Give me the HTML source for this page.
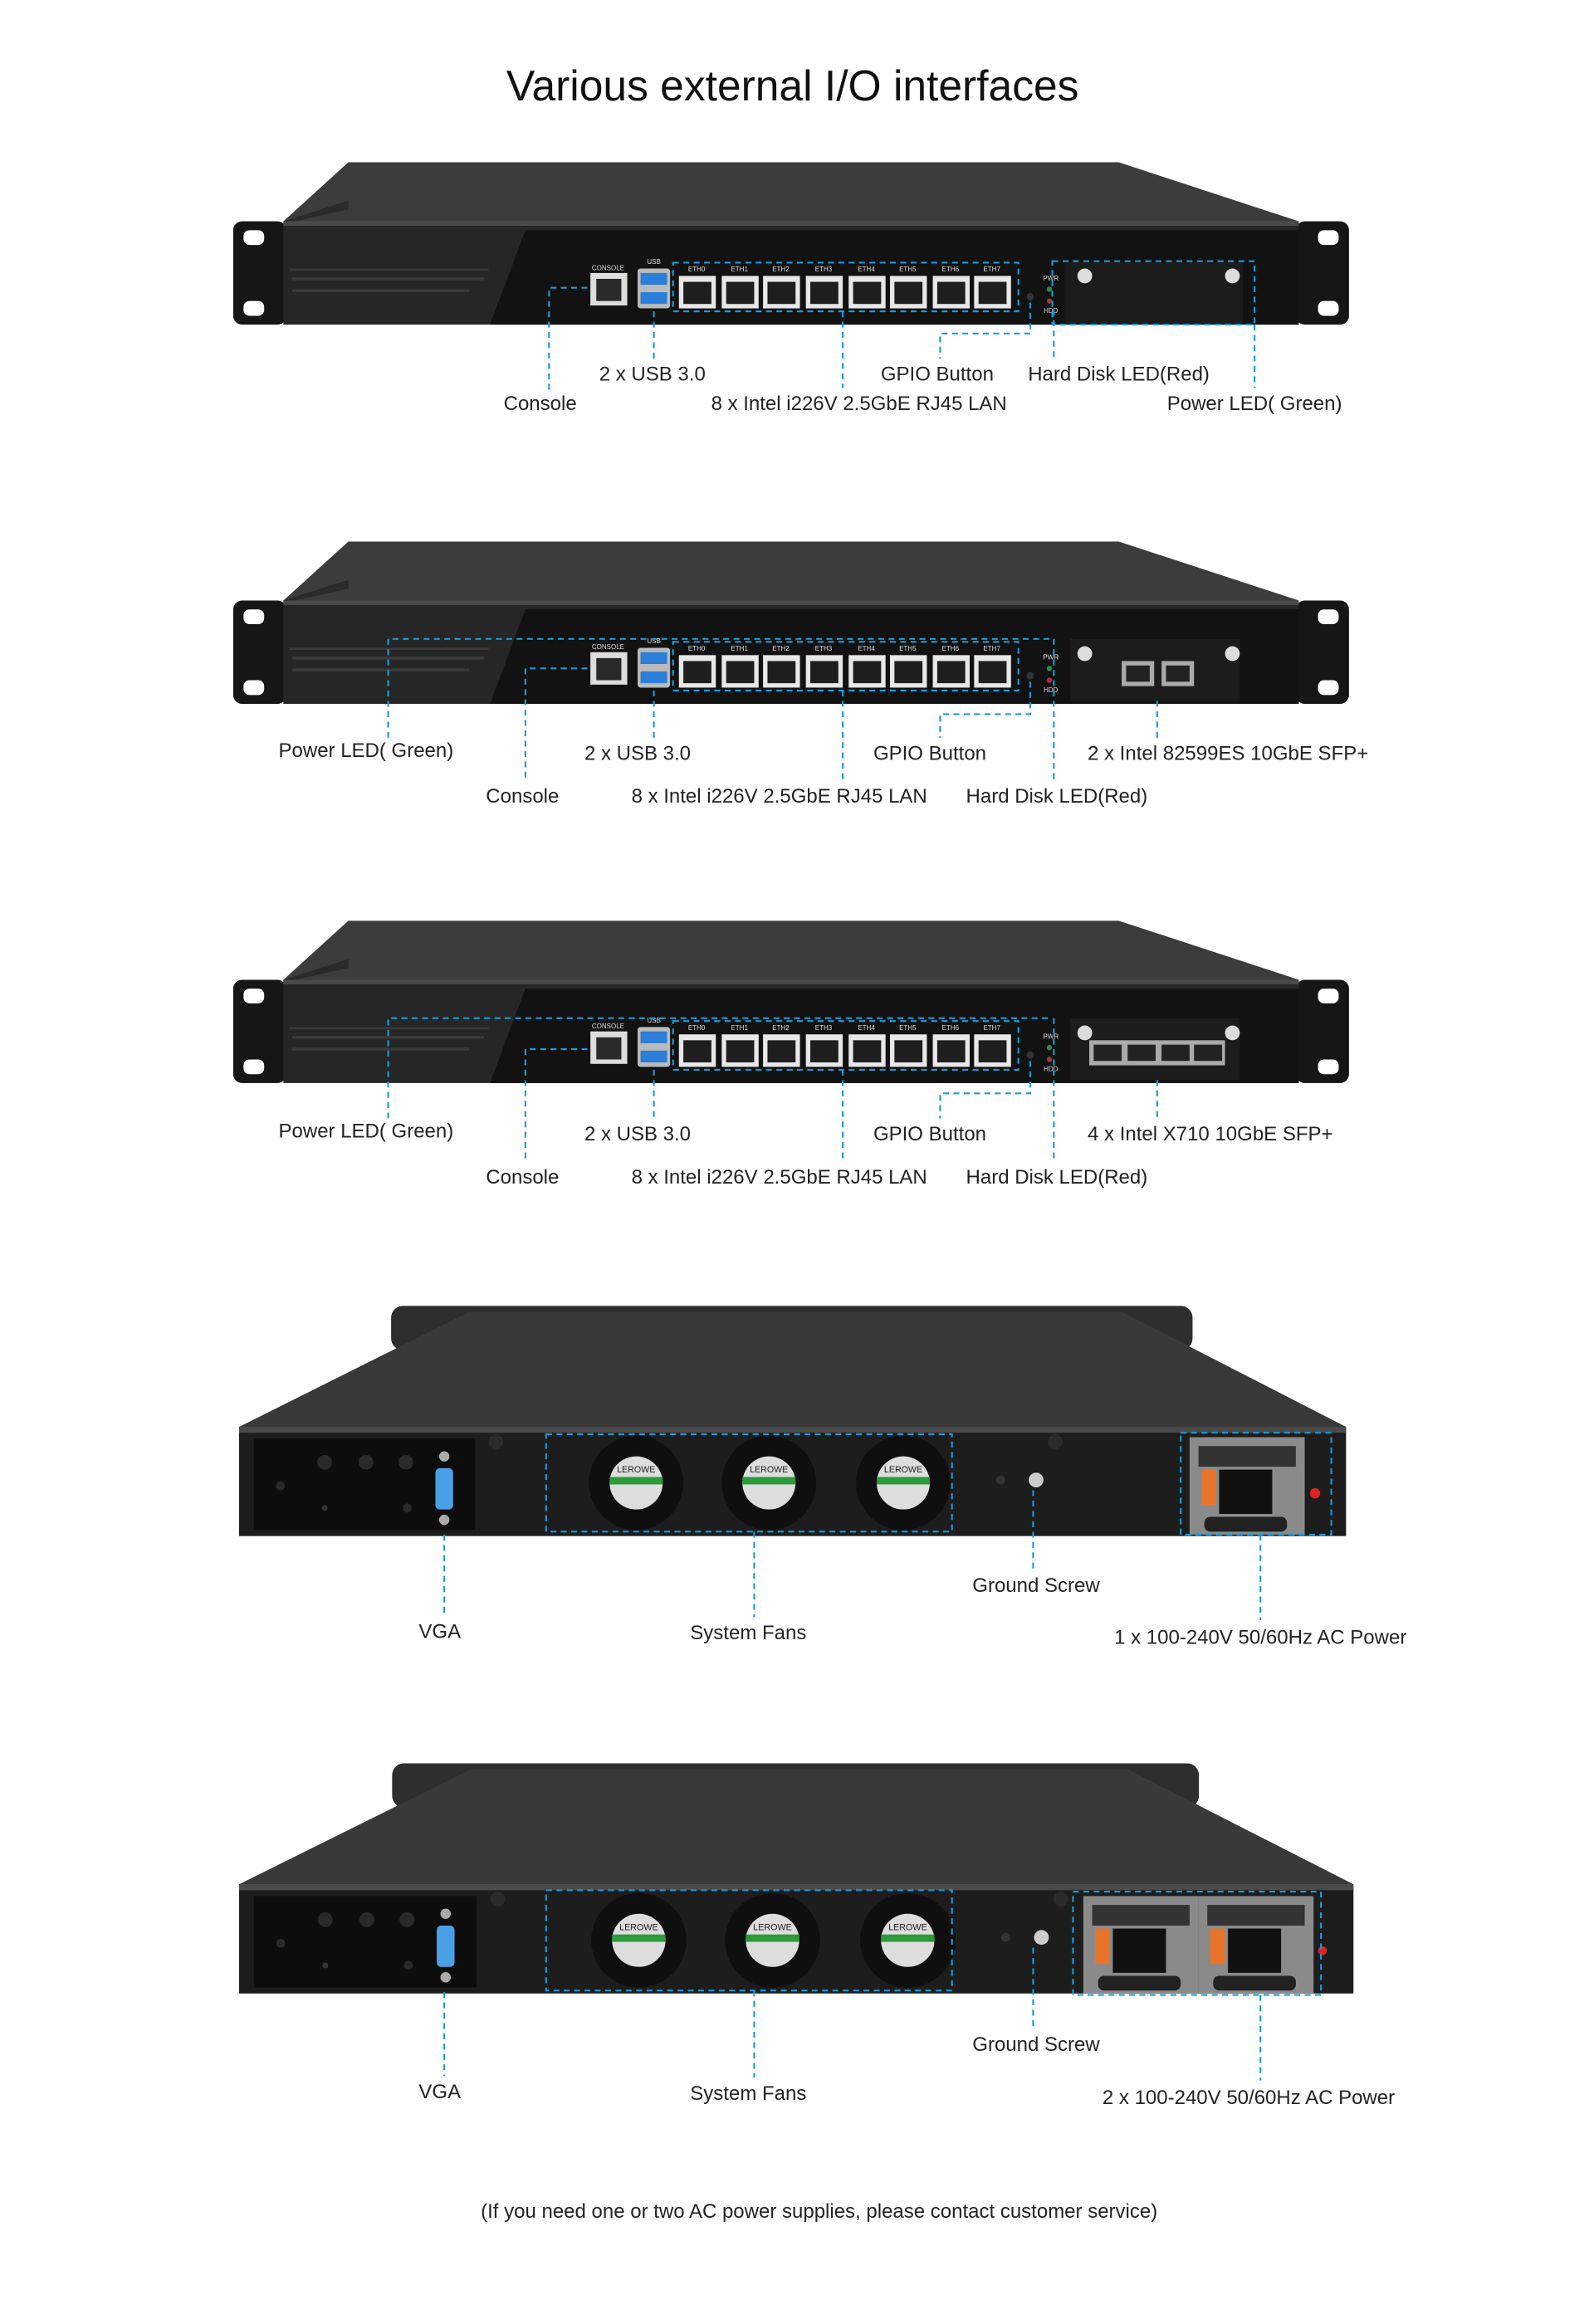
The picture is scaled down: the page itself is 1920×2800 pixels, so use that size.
<!DOCTYPE html>
<html><head><meta charset="utf-8">
<style>
html,body{margin:0;padding:0;background:#fff;}
svg{display:block;}
text{font-family:"Liberation Sans","DejaVu Sans",sans-serif;fill:#222;}
.l{font-size:13.5px;text-anchor:middle;}
.d{stroke:#1a9ad6;stroke-width:1.2;stroke-dasharray:4 3;fill:none;}
.t{font-size:4.5px;fill:#ddd;text-anchor:middle;}
</style></head>
<body>
<svg width="1920" height="2800" viewBox="0 0 1080 1575" xmlns="http://www.w3.org/2000/svg">
<defs>
<g id="front">
  <rect x="158" y="40" width="36" height="70" rx="6" fill="#161616"/>
  <rect x="165" y="46" width="14" height="10" rx="4" fill="#fff"/>
  <rect x="165" y="94" width="14" height="10" rx="4" fill="#fff"/>
  <rect x="878" y="40" width="36" height="70" rx="6" fill="#161616"/>
  <rect x="893" y="46" width="14" height="10" rx="4" fill="#fff"/>
  <rect x="893" y="94" width="14" height="10" rx="4" fill="#fff"/>
  <polygon points="236,0 758,0 880,40 192,40" fill="#3c3c3c"/>
  <polygon points="192,40 236,26 236,32 200,40" fill="#2a2a2a"/>
  <rect x="192" y="40" width="688" height="70" fill="#262626"/>
  <rect x="192" y="40" width="688" height="3" fill="#4a4a4a"/>
  <polygon points="356,46 880,46 880,110 332,110" fill="#121212"/>
  <rect x="196" y="72" width="135" height="1.5" fill="#3a3a3a"/>
  <rect x="198" y="78" width="130" height="2" fill="#3a3a3a"/>
  <rect x="198" y="86" width="120" height="2" fill="#3a3a3a"/>
  <text x="412" y="73" class="t">CONSOLE</text>
  <rect x="400" y="75" width="25" height="22" fill="#ddd"/>
  <rect x="404" y="79" width="17" height="15" fill="#2a2a2a"/>
  <text x="443" y="69" class="t">USB</text>
  <rect x="432" y="72" width="22" height="27" rx="2" fill="#bbb"/>
  <rect x="434" y="75" width="18" height="8" fill="#2b7fd8"/>
  <rect x="434" y="88" width="18" height="8" fill="#2b7fd8"/>
  <g fill="#e8e8e8">
    <rect x="460" y="77" width="25" height="22"/><rect x="489" y="77" width="25" height="22"/>
    <rect x="517" y="77" width="25" height="22"/><rect x="546" y="77" width="25" height="22"/>
    <rect x="575" y="77" width="25" height="22"/><rect x="603" y="77" width="25" height="22"/>
    <rect x="632" y="77" width="25" height="22"/><rect x="660" y="77" width="25" height="22"/>
  </g>
  <g fill="#1e1e1e">
    <rect x="463" y="81" width="19" height="15"/><rect x="492" y="81" width="19" height="15"/>
    <rect x="520" y="81" width="19" height="15"/><rect x="549" y="81" width="19" height="15"/>
    <rect x="578" y="81" width="19" height="15"/><rect x="606" y="81" width="19" height="15"/>
    <rect x="635" y="81" width="19" height="15"/><rect x="663" y="81" width="19" height="15"/>
  </g>
  <text x="472" y="74" class="t">ETH0</text><text x="501" y="74" class="t">ETH1</text>
  <text x="529" y="74" class="t">ETH2</text><text x="558" y="74" class="t">ETH3</text>
  <text x="587" y="74" class="t">ETH4</text><text x="615" y="74" class="t">ETH5</text>
  <text x="644" y="74" class="t">ETH6</text><text x="672" y="74" class="t">ETH7</text>
  <circle cx="698" cy="91" r="2.5" fill="#333"/>
  <text x="712" y="80" class="t">PWR</text>
  <circle cx="711" cy="86" r="1.8" fill="#2c8c4c"/>
  <circle cx="711" cy="94" r="1.8" fill="#a33"/>
  <text x="712" y="102" class="t">HDD</text>
</g>
<g id="back">
  <rect x="265" y="0" width="543" height="30" rx="8" fill="#2e2e2e"/>
  <polygon points="318,4 760,4 912,82 162,82" fill="#393939"/>
  <rect x="162" y="82" width="750" height="74" fill="#1d1d1d"/>
  <rect x="162" y="82" width="750" height="4" fill="#4a4a4a"/>
  <rect x="172" y="90" width="150" height="62" fill="#0d0d0d"/>
  <circle cx="220" cy="106" r="5" fill="#2a2a2a"/><circle cx="248" cy="106" r="5" fill="#2a2a2a"/><circle cx="275" cy="106" r="5" fill="#2a2a2a"/>
  <circle cx="190" cy="122" r="3" fill="#2a2a2a"/><circle cx="220" cy="137" r="2" fill="#333"/><circle cx="276" cy="137" r="3" fill="#2a2a2a"/>
  <rect x="295" y="110" width="12" height="28" rx="3" fill="#4aa0e6"/>
  <circle cx="301" cy="102" r="3.5" fill="#aaa"/><circle cx="301" cy="145" r="3.5" fill="#aaa"/>
  <circle cx="336" cy="92" r="5" fill="#2b2b2b"/><circle cx="715" cy="92" r="5" fill="#2b2b2b"/>
  <g>
    <circle cx="431" cy="120" r="32" fill="#0f0f0f"/><circle cx="431" cy="120" r="18" fill="#ddd"/><rect x="413" y="116" width="36" height="5" fill="#2a9a3a"/><text x="431" y="113" font-size="6" fill="#c22" text-anchor="middle">LEROWE</text>
    <circle cx="521" cy="120" r="32" fill="#0f0f0f"/><circle cx="521" cy="120" r="18" fill="#ddd"/><rect x="503" y="116" width="36" height="5" fill="#2a9a3a"/><text x="521" y="113" font-size="6" fill="#c22" text-anchor="middle">LEROWE</text>
    <circle cx="612" cy="120" r="32" fill="#0f0f0f"/><circle cx="612" cy="120" r="18" fill="#ddd"/><rect x="594" y="116" width="36" height="5" fill="#2a9a3a"/><text x="612" y="113" font-size="6" fill="#c22" text-anchor="middle">LEROWE</text>
  </g>
  <circle cx="702" cy="118" r="5" fill="#ccc"/>
  <circle cx="678" cy="118" r="3" fill="#333"/>
</g>
<g id="psu">
  <rect x="0" y="0" width="78" height="66" fill="#8a8a8a"/>
  <rect x="6" y="6" width="66" height="14" fill="#333"/>
  <rect x="20" y="22" width="36" height="30" fill="#111"/>
  <rect x="8" y="22" width="10" height="24" fill="#e8742a"/>
  <rect x="10" y="54" width="56" height="10" rx="4" fill="#222"/>
</g>
</defs>

<text x="537" y="68" font-size="29" text-anchor="middle" style="fill:#111">Various external I/O interfaces</text>

<!-- Device 1 -->
<use href="#front" transform="translate(0,110)"/>
<rect x="722" y="178" width="120" height="42" fill="#1c1c1c"/>
<circle cx="735" cy="187" r="5" fill="#ddd"/><circle cx="835" cy="187" r="5" fill="#ddd"/>
<rect x="456" y="178" width="234" height="33" class="d"/>
<rect x="713" y="177" width="137" height="43" class="d"/>
<path class="d" d="M398 195 H372 V265"/>
<path class="d" d="M443 211 V243"/>
<path class="d" d="M571 211 V263"/>
<path class="d" d="M698 205 V226 H637 V243"/>
<path class="d" d="M714 210 V243"/>
<path class="d" d="M850 220 V263"/>
<text x="442" y="258" class="l">2 x USB 3.0</text>
<text x="366" y="278" class="l">Console</text>
<text x="582" y="278" class="l">8 x Intel i226V 2.5GbE RJ45 LAN</text>
<text x="635" y="258" class="l">GPIO Button</text>
<text x="758" y="258" class="l">Hard Disk LED(Red)</text>
<text x="850" y="278" class="l">Power LED( Green)</text>

<!-- Device 2 -->
<use href="#front" transform="translate(0,367)"/>
<rect x="725" y="433" width="115" height="42" fill="#1c1c1c"/>
<circle cx="735" cy="443" r="5" fill="#ddd"/><circle cx="835" cy="443" r="5" fill="#ddd"/>
<rect x="760" y="448" width="22" height="17" fill="#aaa"/><rect x="787" y="448" width="22" height="17" fill="#aaa"/>
<rect x="763" y="451" width="16" height="11" fill="#222"/><rect x="790" y="451" width="16" height="11" fill="#222"/>
<rect x="456" y="435" width="234" height="33" class="d"/>
<path class="d" d="M263 500 V433 H713"/>
<path class="d" d="M398 453 H356 V530"/>
<path class="d" d="M443 468 V500"/>
<path class="d" d="M571 468 V530"/>
<path class="d" d="M698 462 V484 H637 V500"/>
<path class="d" d="M714 433 V528"/>
<path class="d" d="M784 475 V500"/>
<text x="248" y="513" class="l">Power LED( Green)</text>
<text x="354" y="544" class="l">Console</text>
<text x="432" y="515" class="l">2 x USB 3.0</text>
<text x="630" y="515" class="l">GPIO Button</text>
<text x="528" y="544" class="l">8 x Intel i226V 2.5GbE RJ45 LAN</text>
<text x="716" y="544" class="l">Hard Disk LED(Red)</text>
<text x="832" y="515" class="l">2 x Intel 82599ES 10GbE SFP+</text>

<!-- Device 3 -->
<use href="#front" transform="translate(0,624)"/>
<rect x="725" y="690" width="115" height="42" fill="#1c1c1c"/>
<circle cx="735" cy="700" r="5" fill="#ddd"/><circle cx="835" cy="700" r="5" fill="#ddd"/>
<rect x="738" y="705" width="92" height="17" fill="#aaa"/>
<rect x="741" y="708" width="19" height="11" fill="#222"/><rect x="764" y="708" width="19" height="11" fill="#222"/><rect x="787" y="708" width="19" height="11" fill="#222"/><rect x="809" y="708" width="19" height="11" fill="#222"/>
<rect x="456" y="692" width="234" height="33" class="d"/>
<path class="d" d="M263 758 V690 H713"/>
<path class="d" d="M398 711 H356 V788"/>
<path class="d" d="M443 725 V758"/>
<path class="d" d="M571 725 V788"/>
<path class="d" d="M698 719 V741 H637 V758"/>
<path class="d" d="M714 690 V786"/>
<path class="d" d="M784 732 V758"/>
<text x="248" y="771" class="l">Power LED( Green)</text>
<text x="354" y="802" class="l">Console</text>
<text x="432" y="773" class="l">2 x USB 3.0</text>
<text x="630" y="773" class="l">GPIO Button</text>
<text x="528" y="802" class="l">8 x Intel i226V 2.5GbE RJ45 LAN</text>
<text x="716" y="802" class="l">Hard Disk LED(Red)</text>
<text x="820" y="773" class="l">4 x Intel X710 10GbE SFP+</text>

<!-- Device 4 -->
<use href="#back" transform="translate(0,885)"/>
<use href="#psu" transform="translate(806,974)"/>
<circle cx="891" cy="1012" r="3.5" fill="#d22"/>
<rect x="370" y="972" width="275" height="66" class="d"/>
<rect x="800" y="971" width="102" height="69" class="d"/>
<path class="d" d="M301 1040 V1096"/>
<path class="d" d="M511 1038 V1096"/>
<path class="d" d="M700 1010 V1065"/>
<path class="d" d="M854 1040 V1098"/>
<text x="298" y="1110" class="l">VGA</text>
<text x="507" y="1111" class="l">System Fans</text>
<text x="702" y="1079" class="l">Ground Screw</text>
<text x="854" y="1114" class="l">1 x 100-240V 50/60Hz AC Power</text>

<!-- Device 5 -->
<use href="#back" transform="translate(0,1195) translate(162,0) scale(1.0067,1) translate(-162,0)"/>
<use href="#psu" transform="translate(734,1285)"/>
<use href="#psu" transform="translate(812,1285)"/>
<circle cx="896" cy="1322" r="3" fill="#d22"/>
<rect x="370" y="1281" width="275" height="68" class="d"/>
<rect x="727" y="1282" width="168" height="70" class="d"/>
<path class="d" d="M301 1350 V1407"/>
<path class="d" d="M511 1349 V1408"/>
<path class="d" d="M700 1320 V1376"/>
<path class="d" d="M854 1352 V1410"/>
<text x="298" y="1422" class="l">VGA</text>
<text x="507" y="1423" class="l">System Fans</text>
<text x="702" y="1390" class="l">Ground Screw</text>
<text x="846" y="1426" class="l">2 x 100-240V 50/60Hz AC Power</text>

<text x="555" y="1503" class="l">(If you need one or two AC power supplies, please contact customer service)</text>
</svg>
</body></html>
